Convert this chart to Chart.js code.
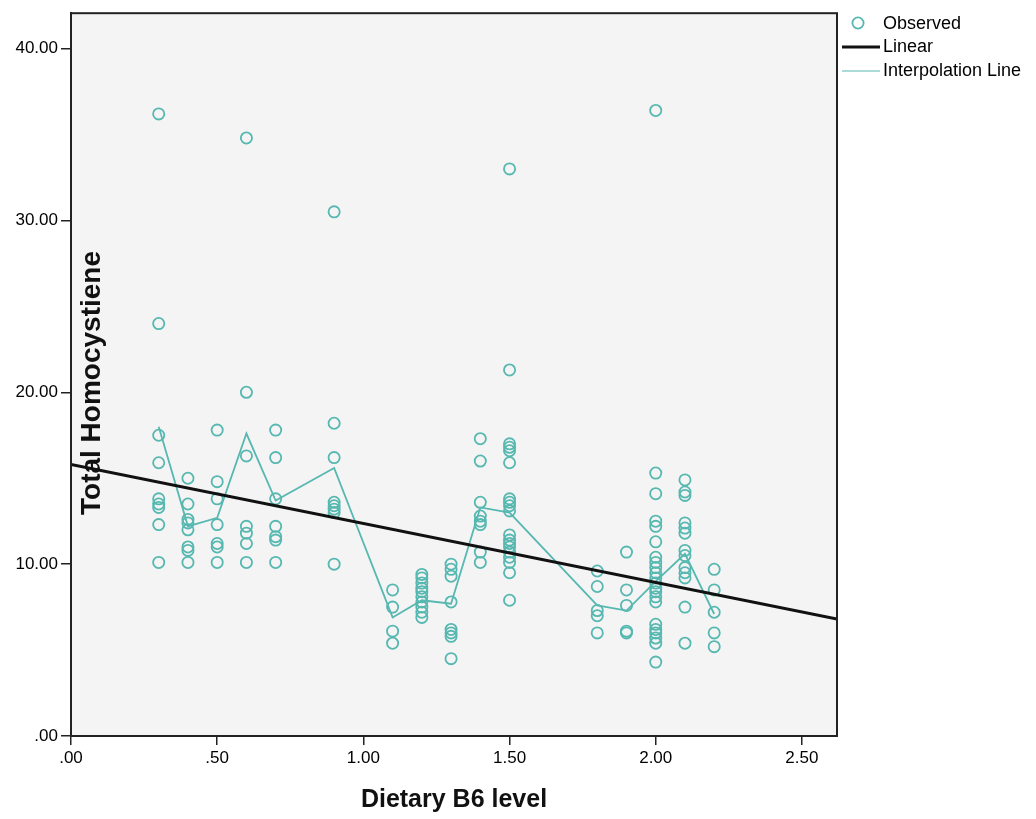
<!DOCTYPE html>
<html>
<head>
<meta charset="utf-8">
<script src="https://cdn.jsdelivr.net/npm/chart.js@4.4.1/dist/chart.umd.min.js"></script>
<style>
body{margin:0;background:#fff}
#wrap{width:1036px;height:819px;position:relative}
</style>
</head>
<body>
<div id="wrap"><canvas id="myChart"></canvas></div>
<script>
// dietary B6 levels and the observed homocysteine values at each level
const b6Levels=[0.3,0.4,0.5,0.6,0.7,0.9,1.1,1.2,1.3,1.4,1.5,1.8,1.9,2.0,2.1,2.2]
const homocysteine=[
 [36.2,24.0,17.5,15.9,13.8,13.5,13.3,12.3,10.1],
 [15.0,13.5,12.6,12.4,12.0,11.0,10.8,10.1],
 [17.8,14.8,13.8,12.3,11.2,11.0,10.1],
 [34.8,20.0,16.3,12.2,11.8,11.2,10.1],
 [17.8,16.2,13.8,12.2,11.6,11.4,10.1],
 [30.5,18.2,16.2,13.6,13.4,13.2,13.0,10.0],
 [8.5,7.5,6.1,5.4],
 [9.4,9.2,8.9,8.6,8.4,8.1,7.8,7.5,7.2,6.9],
 [10.0,9.7,9.3,7.8,6.2,6.0,5.8,4.5],
 [17.3,16.0,13.6,12.8,12.5,12.3,10.7,10.1],
 [33.0,21.3,17.0,16.8,16.6,15.9,13.8,13.6,13.4,13.1,11.7,11.4,11.2,11.0,10.7,10.4,10.1,9.5,7.9],
 [9.6,8.7,7.3,7.0,6.0],
 [10.7,8.5,7.6,6.1,6.0],
 [36.4,15.3,14.1,12.5,12.2,11.3,10.4,10.1,9.8,9.5,9.2,8.9,8.6,8.4,8.1,7.8,6.5,6.2,6.0,5.7,5.4,4.3],
 [14.9,14.2,14.0,12.4,12.1,11.8,10.8,10.5,9.8,9.5,9.2,7.5,5.4],
 [9.7,8.5,7.2,6.0,5.2]
]
// interpolation line, one value per level
const interpY=[18.0,12.2,12.7,17.6,13.7,15.6,6.9,7.9,7.7,13.3,13.0,7.6,7.3,9.0,10.6,7.1]
// linear fit end points
const linearX=[0,2.62]
const linearY=[15.8,6.8]

const xTicks=[0,0.5,1,1.5,2,2.5]
const yTicks=[0,10,20,30,40]
const xMax=2.62
const yMax=42.06

const teal='#56b8b0'
const fam='"Liberation Sans", Arial, sans-serif'

let observed=[]
b6Levels.forEach((x,i)=>{
  homocysteine[i].forEach(v=>observed.push({x:x,y:v}))
})

function fmt(v){
  let s=v.toFixed(2)
  if(s.startsWith('0'))s=s.slice(1)
  return s
}

const frame={
  id:'frame',
  beforeDraw(chart){
    const a=chart.chartArea, c=chart.ctx
    c.save()
    c.fillStyle='#f4f4f4'
    c.fillRect(a.left,a.top,a.right-a.left,a.bottom-a.top)
    c.restore()
  },
  afterDraw(chart){
    const a=chart.chartArea, c=chart.ctx
    c.save()
    c.strokeStyle='#222'
    c.lineWidth=2
    c.strokeRect(a.left,a.top,a.right-a.left,a.bottom-a.top)

    // y title sits inside the plot
    c.translate(92,383)
    c.rotate(-Math.PI/2)
    c.fillStyle='#111'
    c.font='bold 28px '+fam
    c.textAlign='center'
    c.textBaseline='middle'
    c.fillText('Total Homocystiene',0,0)
    c.restore()

    // legend
    const ds=chart.data.datasets
    c.save()
    c.font='18px '+fam
    c.fillStyle='#000'
    c.textBaseline='middle'
    const rows=[[ds[0],24],[ds[1],47],[ds[2],71]]
    rows.forEach(([d,y])=>{
      if(d.showLine){
        c.strokeStyle=d.borderColor
        c.lineWidth=d.legendWidth
        c.beginPath();c.moveTo(842,y);c.lineTo(880,y);c.stroke()
      }else{
        c.strokeStyle=d.borderColor
        c.lineWidth=d.borderWidth
        c.beginPath();c.arc(858,y-1,d.pointRadius,0,Math.PI*2);c.stroke()
      }
      c.fillText(d.label,883,y)
    })
    c.restore()
  }
}

const ctx=document.getElementById('myChart')
new Chart(ctx,{
  type:'scatter',
  data:{
    datasets:[
      {label:'Observed',data:observed,showLine:false,pointStyle:'circle',pointRadius:5.6,
       backgroundColor:'rgba(0,0,0,0)',borderColor:teal,borderWidth:1.8,order:3},
      {label:'Linear',data:linearX.map((x,i)=>({x:x,y:linearY[i]})),showLine:true,pointRadius:0,
       borderColor:'#111',borderWidth:3,legendWidth:3,order:1},
      {label:'Interpolation Line',data:b6Levels.map((x,i)=>({x:x,y:interpY[i]})),showLine:true,pointRadius:0,
       borderColor:teal,borderWidth:1.8,legendWidth:1.2,order:2}
    ]
  },
  options:{
    responsive:true,
    maintainAspectRatio:false,
    animation:false,
    layout:{padding:{left:0,top:10,right:199,bottom:0}},
    plugins:{legend:{display:false},tooltip:{enabled:false}},
    scales:{
      x:{
        type:'linear',min:0,max:xMax,
        afterBuildTicks(s){s.ticks=xTicks.map(v=>({value:v}))},
        afterFit(s){s.height=83},
        ticks:{callback:v=>fmt(v),font:{size:17,family:fam},color:'#000',padding:3,maxRotation:0,autoSkip:false},
        grid:{drawOnChartArea:false,tickLength:9,color:'#222',lineWidth:1.5},
        border:{color:'#222',width:2},
        title:{display:true,text:'Dietary B6 level',font:{size:25,weight:'bold',family:fam},color:'#111',padding:{top:0,bottom:4}}
      },
      y:{
        type:'linear',min:0,max:yMax,
        afterBuildTicks(s){s.ticks=yTicks.map(v=>({value:v}))},
        afterFit(s){s.width=71},
        ticks:{callback:v=>fmt(v),font:{size:17,family:fam},color:'#000',padding:3,autoSkip:false},
        grid:{drawOnChartArea:false,tickLength:10,color:'#222',lineWidth:1.5},
        border:{color:'#222',width:2}
      }
    }
  },
  plugins:[frame]
})
</script>
</body>
</html>
